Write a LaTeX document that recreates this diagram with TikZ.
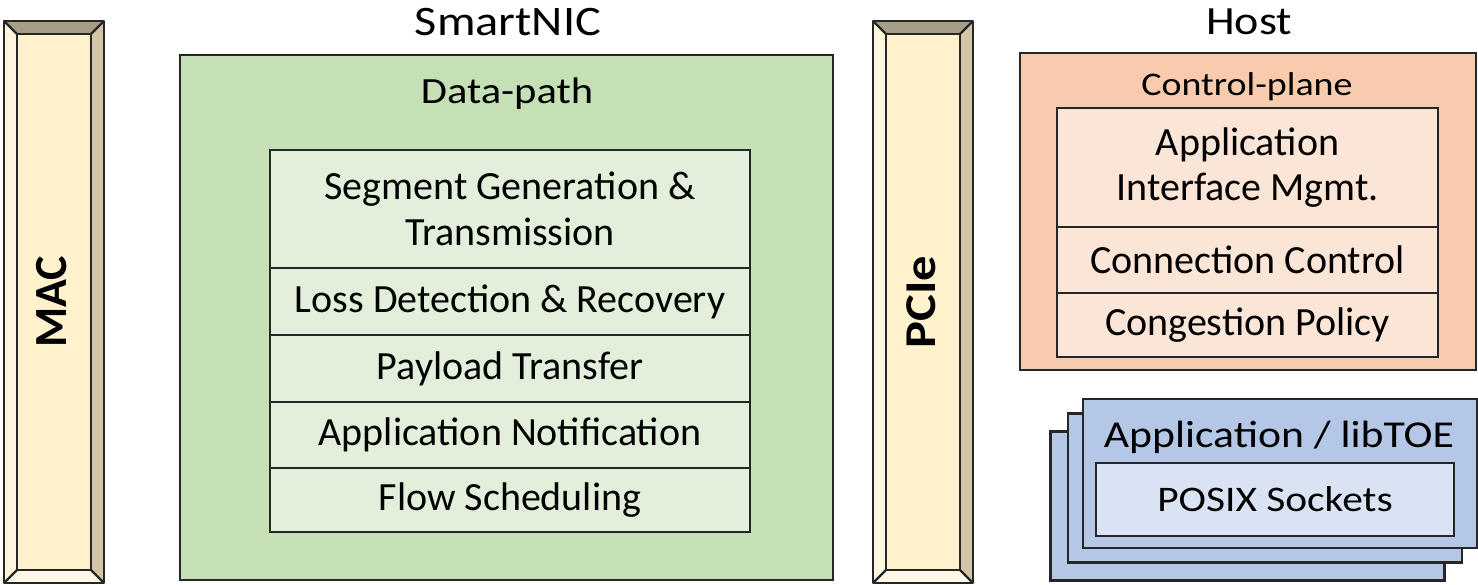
\documentclass[tikz,border=0pt]{standalone}
\usepackage{fontspec}
\setmainfont{Carlito}
\newfontfamily\widefont{Carlito}[FakeStretch=1.15]
\begin{document}
\begin{tikzpicture}[x=1pt,y=-1pt,
  line width=2.2pt,
  edge/.style={draw=black!85},
  rowbox/.style={edge,fill=rowgreen,minimum width=480pt,inner sep=0pt,align=center,font=\fontsize{40}{46}\selectfont},
  orangerow/.style={edge,fill=rowpeach,minimum width=381pt,inner sep=0pt,align=center,font=\fontsize{40}{45}\selectfont},
  card/.style={edge,fill=cardblue,minimum width=394pt,minimum height=149pt,inner sep=0pt},
  bar/.style={edge,fill=barface,minimum width=98pt,minimum height=560pt,inner sep=0pt},
  title/.style={font=\widefont\fontsize{42}{44}\selectfont}
]
\definecolor{datagreen}{HTML}{C5E0B4}
\definecolor{rowgreen}{HTML}{E2EFDA}
\definecolor{peach}{HTML}{F8CBAD}
\definecolor{rowpeach}{HTML}{FBE5D6}
\definecolor{cardblue}{HTML}{B4C7E7}
\definecolor{posixblue}{HTML}{DAE3F3}
\definecolor{barface}{HTML}{FFF2CC}
\definecolor{bartop}{HTML}{A69E86}
\definecolor{barright}{HTML}{D2C6A6}
\definecolor{barleft}{HTML}{FFF6DE}
\definecolor{barbottom}{HTML}{FFF9E8}

\useasboundingbox (0,0) rectangle (1478,584);

% bevelled bar: #1 name, #2 centre x, #3 label font, #4 label
\newcommand{\bevelbar}[4]{%
  \node[bar] (#1) at (#2,302) {};
  \coordinate (#1-a) at ([shift={(13,13)}]#1.north west);
  \coordinate (#1-b) at ([shift={(-13,13)}]#1.north east);
  \coordinate (#1-c) at ([shift={(-13,-13)}]#1.south east);
  \coordinate (#1-d) at ([shift={(13,-13)}]#1.south west);
  \fill[bartop] (#1.north west) -- (#1.north east) -- (#1-b) -- (#1-a) -- cycle;
  \fill[barright] (#1.north east) -- (#1.south east) -- (#1-c) -- (#1-b) -- cycle;
  \fill[barleft] (#1.north west) -- (#1.south west) -- (#1-d) -- (#1-a) -- cycle;
  \fill[barbottom] (#1.south west) -- (#1.south east) -- (#1-c) -- (#1-d) -- cycle;
  \draw[black!85,line join=round] (#1.north west) rectangle (#1.south east);
  \draw[black!85] (#1-a) rectangle (#1-c);
  \draw[black!85] (#1.north west) -- (#1-a) (#1.north east) -- (#1-b)
                  (#1.south east) -- (#1-c) (#1.south west) -- (#1-d);
  \node[rotate=90,font=#3] (#1-label) at ([xshift=-2]#1.center) {#4};
}

\bevelbar{mac}{54}{\fontsize{46}{50}\selectfont\bfseries}{MAC}
\bevelbar{pcie}{923}{\widefont\fontsize{44}{50}\selectfont\bfseries}{PCIe}

% SmartNIC data-path
\node[title] (smartnic) at (508,22) {SmartNIC};
\node[edge,fill=datagreen,minimum width=653pt,minimum height=525pt,inner sep=0pt] (datapath) at (506.5,317.5) {};
\node[font=\widefont\fontsize{37}{40}\selectfont] (dptitle) at (507,94) {Data-path};
\node[rowbox,minimum height=118pt] (seg) at (510,209) {Segment Generation \&\\Transmission};
\node[rowbox,minimum height=67pt] (loss) at (510,301.5) {Loss Detection \& Recovery};
\node[rowbox,minimum height=67pt] (payload) at (510,368.5) {Payload Transfer};
\node[rowbox,minimum height=66pt] (notif) at (510,435) {Application Notification};
\node[rowbox,minimum height=64pt] (flow) at (510,500) {Flow Scheduling};

% Host control-plane
\node[font=\widefont\fontsize{40}{44}\selectfont] (host) at (1249,22) {Host};
\node[edge,fill=peach,minimum width=456pt,minimum height=317pt,inner sep=0pt] (ctrl) at (1248,211.5) {};
\node[font=\widefont\fontsize{33}{36}\selectfont] (ctrltitle) at (1247,87) {Control-plane};
\node[orangerow,minimum height=119pt] (appif) at (1247.5,167.5) {Application\\Interface Mgmt.};
\node[orangerow,minimum height=66pt] (conn) at (1247.5,260) {Connection Control};
\node[orangerow,minimum height=64pt] (cong) at (1247.5,325) {Congestion Policy};

% Application / libTOE stack
\node[card] (card3) at (1247.5,506) {};
\node[card] (card2) at (1265,488) {};
\node[card] (card1) at (1280,473.5) {};
\node[font=\widefont\fontsize{38}{42}\selectfont] (apptitle) at (1279,437) {Application / libTOE};
\node[edge,fill=posixblue,minimum width=358pt,minimum height=73pt,inner sep=0pt,font=\widefont\fontsize{36}{40}\selectfont] (posix) at (1275,499.5) {POSIX Sockets};
\end{tikzpicture}
\end{document}
